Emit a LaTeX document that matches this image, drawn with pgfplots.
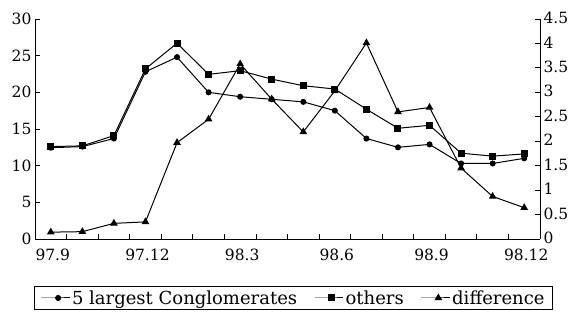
\documentclass[border=0pt]{standalone}
\usepackage{pgfplots}
\pgfplotsset{compat=1.18}
\usepackage{fontspec}
\setmainfont{DejaVu Serif}
\pgfplotstableread{
i big others diff
0 12.45 12.6 0.14
1 12.6 12.7 0.15
2 13.7 14.1 0.32
3 22.8 23.2 0.35
4 24.8 26.7 1.97
5 20.0 22.45 2.45
6 19.4 22.95 3.58
7 19.05 21.8 2.86
8 18.7 20.9 2.19
9 17.5 20.45 3.03
10 13.7 17.7 4.01
11 12.5 15.1 2.6
12 12.9 15.5 2.69
13 10.3 11.7 1.45
14 10.3 11.3 0.87
15 11.0 11.6 0.64
}\data
\begin{document}
\begin{tikzpicture}
\pgfplotsset{
  every axis/.append style={font=\fontsize{15.5}{18}\selectfont},
  /pgf/number format/assume math mode=true,
  common/.style={
    scale only axis, width=505pt, height=220pt,
    xmin=-0.5, xmax=15.5,
    tick align=inside, major tick length=5pt,
    axis line style={-, line width=0.8pt},
    every tick/.style={black, line width=0.8pt},
  },
}
\begin{axis}[common,
  ymin=0, ymax=30,
  axis x line*=bottom, axis y line*=left,
  xtick={0.5,1.5,...,14.5}, xticklabels={},
  extra x ticks={0,3,6,9,12,15},
  extra x tick labels={97.9,97.12,98.3,98.6,98.9,98.12},
  extra x tick style={major tick length=0pt},
  xticklabel style={yshift=-6pt, xshift=2pt},
  ytick={0,5,...,30},
  legend columns=3,
  legend style={at={(0.512,0)}, anchor=north, yshift=-47pt, draw=black, line width=0.8pt,
    font=\fontsize{18}{21}\selectfont, inner xsep=6pt, inner ysep=2pt,
    /tikz/every even column/.append style={column sep=15pt}},
  legend cell align=left,
  legend image code/.code={\draw[mark repeat=2,mark phase=2] plot coordinates {(0cm,0cm)(0.6cm,0cm)(1.0cm,0cm)};},
]
\coordinate (bl) at (rel axis cs:0,0);
\coordinate (tr) at (rel axis cs:1,1);
\addplot[black, line width=1pt, mark=*, mark size=2.5pt] table[x=i, y=big] {\data};
\addlegendentry{5 largest Conglomerates}
\addplot[black, line width=1pt, mark=square*, mark size=3pt] table[x=i, y=others] {\data};
\addlegendentry{others}
\addlegendimage{black, line width=1pt, mark=triangle*, mark size=3.5pt}
\addlegendentry{difference}
\end{axis}
\begin{axis}[common,
  ymin=0, ymax=4.5,
  axis y line*=right, axis x line=none,
  ytick={0,0.5,1,1.5,2,2.5,3,3.5,4,4.5},
  yticklabels={0,0.5,1,1.5,2,2.5,3,3.5,4,4.5},
  yticklabel style={yshift=1pt},
]
\addplot[black, line width=1pt, mark=triangle*, mark size=3.5pt] table[x=i, y=diff] {\data};
\end{axis}
\pgfresetboundingbox
\path[use as bounding box] ([shift={(-35pt,-73pt)}]bl) rectangle ([shift={(39pt,19pt)}]tr);
\end{tikzpicture}
\end{document}
